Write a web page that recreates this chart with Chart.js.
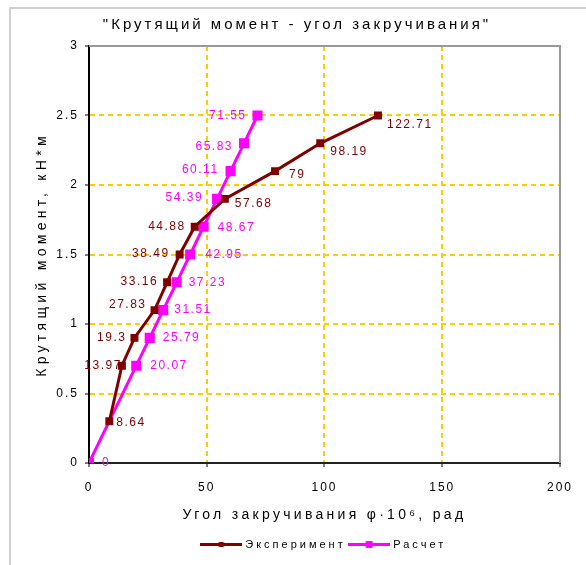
<!DOCTYPE html>
<html lang="ru">
<head>
<meta charset="utf-8">
<title>Крутящий момент - угол закручивания</title>
<script src="https://cdn.jsdelivr.net/npm/chart.js@4.4.0/dist/chart.umd.min.js"></script>
<style>
  html, body { margin: 0; padding: 0; background: #fff; }
  #wrap { position: relative; width: 586px; height: 565px; }
</style>
</head>
<body>
<div id="wrap"><canvas id="chart" width="586" height="565"></canvas></div>
<script>
// Данные: угол закручивания (φ·10^6, рад) и крутящий момент (кН*м)
const expAngle = [8.64, 13.97, 19.3, 27.83, 33.16, 38.49, 44.88, 57.68, 79, 98.19, 122.71];
const expMoment = [0.3, 0.7, 0.9, 1.1, 1.3, 1.5, 1.7, 1.9, 2.1, 2.3, 2.5];
const calcAngle = [0, 20.07, 25.79, 31.51, 37.23, 42.95, 48.67, 54.39, 60.11, 65.83, 71.55];
const calcMoment = [0, 0.7, 0.9, 1.1, 1.3, 1.5, 1.7, 1.9, 2.1, 2.3, 2.5];
const seriesNames = ['Эксперимент', 'Расчет'];
const xTicks = [0, 50, 100, 150, 200];
const yTicks = [0, 0.5, 1, 1.5, 2, 2.5, 3];

const FONT = 'Arial, "Liberation Sans", sans-serif';
const EXP_COLOR = '#800000';
const CALC_COLOR = '#FF00FF';
const GRID_COLOR = '#FFCC00';

// Где ставить подписи точек: сторона, отступ, сдвиг по вертикали
const expLabelPos = [
  ['R', 7, 1], ['L', 0, 0], ['L', 8, 0], ['L', 8, -5], ['L', 9, -1], ['L', 10, -1],
  ['L', 9, 0], ['R', 10, 5], ['R', 14, 4], ['R', 10, 8], ['R', 9, 9]
];
const calcLabelPos = [
  ['R', 13, 0], ['R', 14, 0], ['R', 13, 0], ['R', 11, 0], ['R', 12, 0], ['R', 15, 0],
  ['R', 14, 1], ['L', 14, -1], ['L', 12, -1], ['L', 11, 3], ['L', 11, 0]
];

function toPoints(xs, ys) {
  return xs.map((x, i) => ({ x: x, y: ys[i] }));
}

// Значок легенды: линия с маркером посередине
function legendIcon(color, size) {
  const c = document.createElement('canvas');
  c.width = 42;
  c.height = 9;
  const g = c.getContext('2d');
  g.fillStyle = color;
  g.fillRect(0, 3, 42, 3);
  g.fillRect(21 - size / 2, 4.5 - size / 2, size, size);
  return c;
}
const legendIcons = [legendIcon(EXP_COLOR, 5), legendIcon(CALC_COLOR, 7)];

// Разрядка букв для отдельного элемента (шрифт в оригинале широкий)
function withSpacing(target, names, px) {
  if (!target || target._spaced) return;
  target._spaced = true;
  names.forEach(name => {
    const orig = target[name];
    target[name] = function (...args) {
      const ctx = this.ctx;
      const prev = ctx.letterSpacing;
      ctx.letterSpacing = px;
      try {
        return orig.apply(this, args);
      } finally {
        ctx.letterSpacing = prev;
      }
    };
  });
}

const spacingPlugin = {
  id: 'spacing',
  beforeLayout(chart) {
    chart.ctx.letterSpacing = '2px';
    withSpacing(chart.titleBlock, ['draw'], '3px');
    withSpacing(chart.legend, ['fit', 'draw'], '3px');
    withSpacing(chart.scales.x, ['drawTitle'], '3.3px');
    withSpacing(chart.scales.y, ['drawTitle'], '4.3px');
  },
  beforeDraw(chart) { chart.ctx.letterSpacing = '2px'; }
};

// Рамка вокруг всего рисунка и серая рамка области построения
const framePlugin = {
  id: 'frame',
  beforeDraw(chart) {
    const ctx = chart.ctx;
    ctx.save();
    ctx.fillStyle = '#fff';
    ctx.fillRect(0, 0, chart.width, chart.height);
    ctx.strokeStyle = '#d0d0d0';
    ctx.lineWidth = 2;
    ctx.beginPath();
    ctx.moveTo(10, chart.height);
    ctx.lineTo(10, 8);
    ctx.lineTo(chart.width, 8);
    ctx.stroke();
    ctx.restore();
  },
  beforeDatasetsDraw(chart) {
    const a = chart.chartArea;
    const ctx = chart.ctx;
    ctx.save();
    ctx.strokeStyle = '#999';
    ctx.lineWidth = 2;
    ctx.beginPath();
    ctx.moveTo(a.left, a.top);
    ctx.lineTo(a.right, a.top);
    ctx.lineTo(a.right, a.bottom);
    ctx.stroke();
    ctx.restore();
  }
};

// Подписи значений угла у каждой точки
const labelPlugin = {
  id: 'pointLabels',
  afterDatasetsDraw(chart) {
    const ctx = chart.ctx;
    ctx.save();
    ctx.font = '12px ' + FONT;
    ctx.letterSpacing = '1.5px';
    ctx.textBaseline = 'middle';
    chart.data.datasets.forEach((ds, i) => {
      const meta = chart.getDatasetMeta(i);
      meta.data.forEach((pt, j) => {
        const pos = ds.labelPos[j];
        ctx.fillStyle = ds.borderColor;
        ctx.textAlign = pos[0] === 'L' ? 'right' : 'left';
        const x = pos[0] === 'L' ? pt.x - pos[1] : pt.x + pos[1];
        ctx.fillText(String(ds.data[j].x), x, pt.y + pos[2]);
      });
    });
    ctx.restore();
  }
};

function gridColor(max) {
  return ctx => {
    if (ctx.tick && (ctx.tick.value === 0 || ctx.tick.value === max)) return 'rgba(0,0,0,0)';
    return GRID_COLOR;
  };
}

function initializeChart() {
  Chart.defaults.font.family = FONT;
  Chart.defaults.color = '#000';

  new Chart(document.getElementById('chart'), {
    type: 'scatter',
    data: {
      datasets: [
        {
          label: seriesNames[0],
          data: toPoints(expAngle, expMoment),
          showLine: true,
          borderColor: EXP_COLOR,
          backgroundColor: EXP_COLOR,
          borderWidth: 3,
          pointStyle: 'rect',
          pointRadius: 3.5,
          labelPos: expLabelPos
        },
        {
          label: seriesNames[1],
          data: toPoints(calcAngle, calcMoment),
          showLine: true,
          borderColor: CALC_COLOR,
          backgroundColor: CALC_COLOR,
          borderWidth: 3,
          pointStyle: 'rect',
          pointRadius: 5,
          labelPos: calcLabelPos
        }
      ]
    },
    options: {
      responsive: false,
      animation: false,
      events: [],
      layout: { padding: { top: 0, left: 34, right: 26, bottom: 5 } },
      plugins: {
        title: {
          display: true,
          text: '"Крутящий момент - угол закручивания"',
          color: '#000',
          font: { size: 15, weight: 'normal' },
          padding: { top: 16, bottom: 12 }
        },
        legend: {
          position: 'bottom',
          fullSize: false,
          labels: {
            usePointStyle: true,
            pointStyleWidth: 37,
            padding: 5,
            color: '#000',
            font: { size: 11 },
            generateLabels(chart) {
              const items = Chart.defaults.plugins.legend.labels.generateLabels(chart);
              items.forEach((it, i) => { it.pointStyle = legendIcons[i]; });
              return items;
            }
          }
        },
        tooltip: { enabled: false }
      },
      scales: {
        x: {
          type: 'linear',
          min: xTicks[0],
          max: xTicks[xTicks.length - 1],
          afterBuildTicks(scale) { scale.ticks = xTicks.map(v => ({ value: v })); },
          ticks: { color: '#000', font: { size: 12 }, padding: 13, maxRotation: 0, callback: v => String(v) },
          grid: { color: gridColor(200), tickColor: '#000', tickLength: 4, tickWidth: 1, lineWidth: 2 },
          border: { color: '#222', width: 2, dash: [5, 4] },
          title: {
            display: true,
            text: 'Угол закручивания φ·10⁶, рад',
            color: '#000',
            font: { size: 14 },
            padding: { top: 0, bottom: 10 }
          },
          afterFit(scale) { scale.height = 71; }
        },
        y: {
          type: 'linear',
          min: yTicks[0],
          max: yTicks[yTicks.length - 1],
          afterBuildTicks(scale) { scale.ticks = yTicks.map(v => ({ value: v })); },
          ticks: { color: '#000', font: { size: 12 }, padding: 6, callback: v => String(v) },
          grid: { color: gridColor(3), tickColor: '#000', tickLength: 4, tickWidth: 1, lineWidth: 2 },
          border: { color: '#000', width: 2, dash: [5, 4] },
          title: {
            display: true,
            text: 'Крутящий момент, кН*м',
            color: '#000',
            font: { size: 14 },
            padding: { top: 0, bottom: 0 }
          },
          afterFit(scale) { scale.width = 55; }
        }
      }
    },
    plugins: [spacingPlugin, framePlugin, labelPlugin]
  });
}

window.addEventListener('load', () => {
  initializeChart();
});
</script>
</body>
</html>
